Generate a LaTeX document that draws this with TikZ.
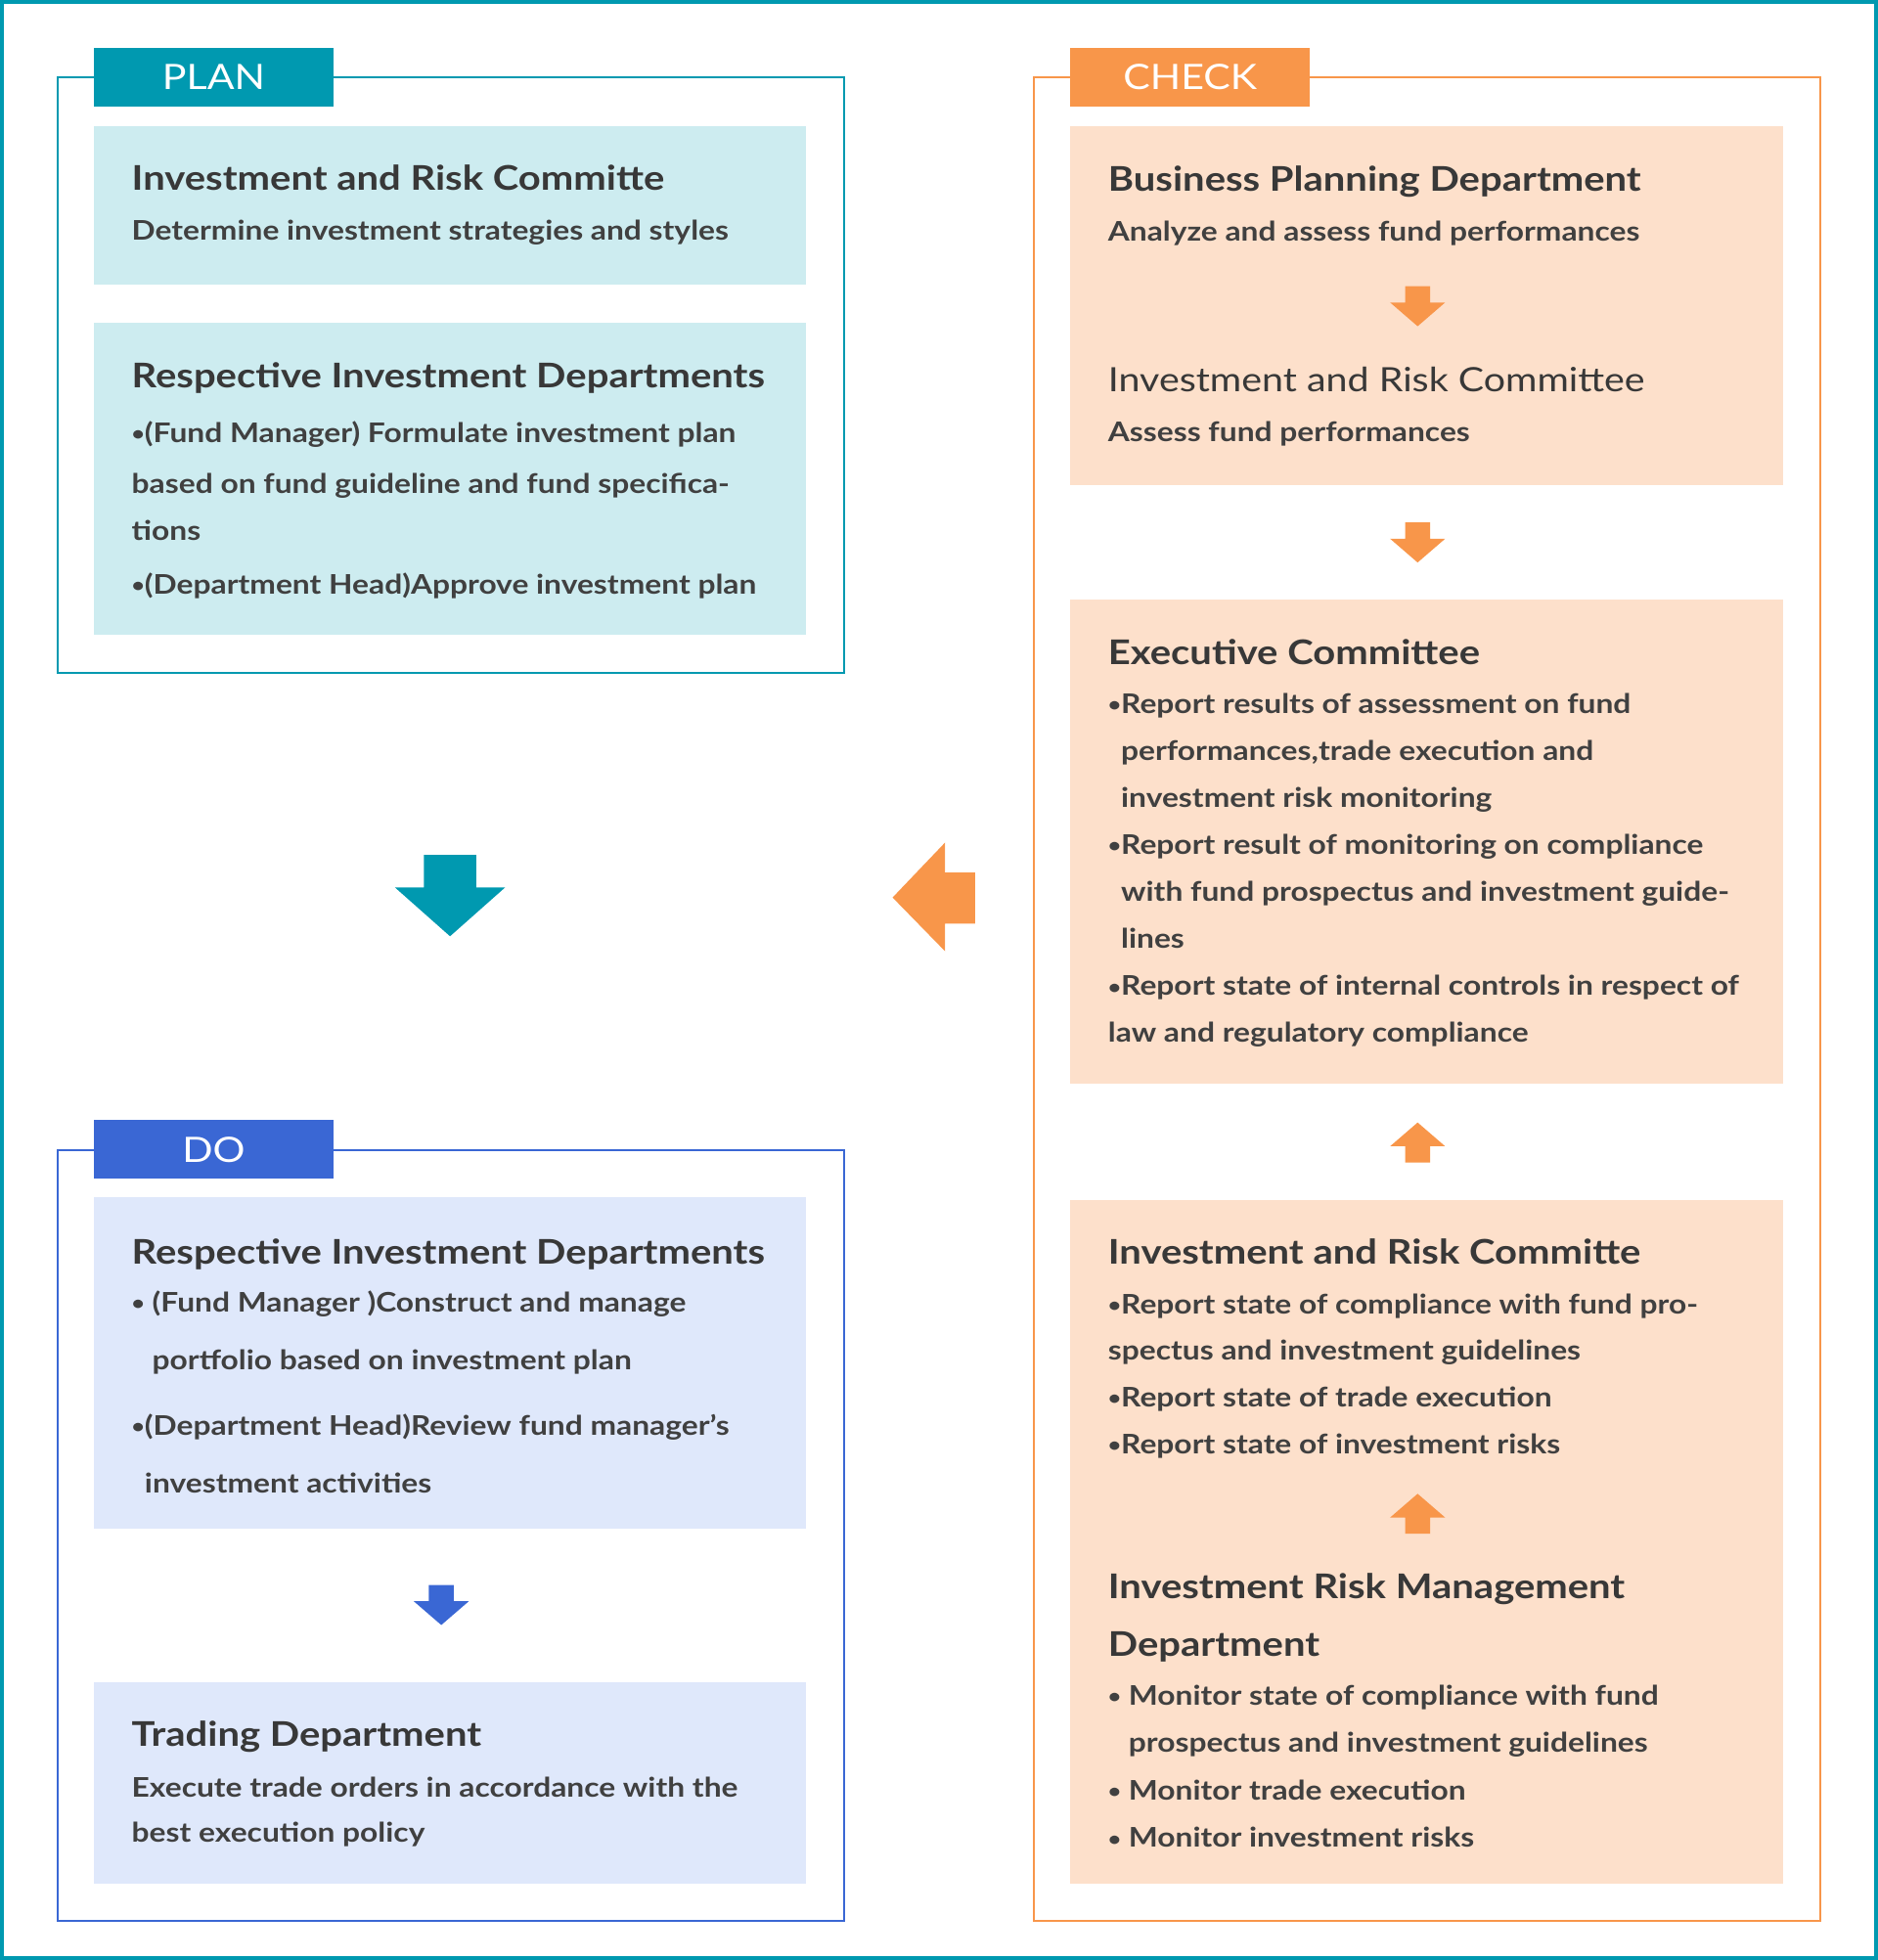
\documentclass[tikz,border=0pt]{standalone}
\usepackage{fontspec}
\setmainfont{Lato}[FakeStretch=1.15]

\definecolor{plancol}{HTML}{0099B0}
\definecolor{planfill}{HTML}{CDECF0}
\definecolor{docol}{HTML}{3A67D4}
\definecolor{dofill}{HTML}{DFE8FB}
\definecolor{checkcol}{HTML}{F8964A}
\definecolor{checkfill}{HTML}{FDE0CB}
\definecolor{headcol}{HTML}{383838}
\definecolor{bodycol}{HTML}{404040}

% small bullet
\newcommand{\blt}{\raisebox{0.12ex}{\scalebox{0.72}{•}}}

\begin{document}
\begin{tikzpicture}[
            x=0.5pt, y=-0.5pt,
            tab/.style={minimum width=96pt, minimum height=23.5pt, inner sep=0pt, text=white, font=\fontsize{14}{14}\selectfont},
            head/.style={anchor=base west, inner sep=0pt, align=left, text=headcol, font=\fontsize{13.6}{23}\selectfont\bfseries},
            headlight/.style={head, font=\fontsize{13.4}{23}\selectfont},
            body/.style={anchor=base west, inner sep=0pt, align=left, text=bodycol, font=\fontsize{10.8}{#1}\selectfont\bfseries},
            body/.default=18.8pt,
            smalldown/.pic={\fill (-10,0) -- (10,0) -- (10,13) -- (22,13) -- (0,32) -- (-22,13) -- (-10,13) -- cycle;}
        ]
            \useasboundingbox (0,0) rectangle (1502,1568);
            \draw[plancol, line width=1.5pt] (1.5,1.5) rectangle (1500.5,1566.5);

            % frames
            \draw[plancol, line width=0.75pt] (46,62) rectangle (675,538);
            \draw[docol, line width=0.75pt] (46,920) rectangle (675,1537);
            \draw[checkcol, line width=0.75pt] (827,62) rectangle (1456,1537);

            \node[tab, fill=plancol] (plantab) at (171,61.5) {PLAN};
            \node[tab, fill=docol] (dotab) at (171,919.5) {DO};
            \node[tab, fill=checkcol] (checktab) at (952,61.5) {CHECK};

            % plan (multi-line nodes sit on their last baseline)
            \fill[planfill] (75,101) rectangle (645,228);
            \fill[planfill] (75,258) rectangle (645,508);
            \node[head] (planhead1) at (105,152) {Investment and Risk Committe};
            \node[body] (planbody1) at (105,192) {Determine investment strategies and styles};
            \node[head] (planhead2) at (105,310) {Respective Investment Departments};
            \node[body=18.5pt] (planbody2) at (105,475) {\blt(Fund Manager) Formulate investment plan\\[2pt]based on fund guideline and fund specifica-\\tions\\[3pt]\blt(Department Head)Approve investment plan};

            \fill[plancol] (339,684) -- (381,684) -- (381,710) -- (404,710) -- (360,749) -- (316,710) -- (339,710) -- cycle;

            % do
            \fill[dofill] (75,958) rectangle (645,1223);
            \fill[dofill] (75,1346) rectangle (645,1507);
            \node[head] (dohead1) at (105,1011) {Respective Investment Departments};
            \node[body=23pt] (dobody1) at (105,1194) {\blt{} (Fund Manager )Construct and manage\\\hphantom{\blt{} }portfolio based on investment plan\\[3.25pt]\blt(Department Head)Review fund manager’s\\\hphantom{\blt}investment activities};
            \pic[docol] at (353,1268) {smalldown};
            \node[head] (dohead2) at (105,1397) {Trading Department};
            \node[body=18.3pt] (dobody2) at (105,1474) {Execute trade orders in accordance with the\\best execution policy};

            % check
            \fill[checkcol] (780,698) -- (756,698) -- (756,674) -- (714,718) -- (756,761) -- (756,739) -- (780,739) -- cycle;

            \fill[checkfill] (856,101) rectangle (1426,388);
            \fill[checkfill] (856,480) rectangle (1426,867);
            \fill[checkfill] (856,960) rectangle (1426,1507);

            \node[head] (checkhead1) at (886,153) {Business Planning Department};
            \node[body] (checkbody1) at (886,193) {Analyze and assess fund performances};
            \pic[checkcol] at (1134,229) {smalldown};
            \node[headlight] (checkhead2) at (886,313) {Investment and Risk Committee};
            \node[body] (checkbody2) at (886,353) {Assess fund performances};
            \pic[checkcol] at (1134,418) {smalldown};

            \node[head] (checkhead3) at (886,532) {Executive Committee};
            \node[body] (checkbody3) at (886,834) {\blt Report results of assessment on fund\\\hphantom{\blt}performances,trade execution and\\\hphantom{\blt}investment risk monitoring\\\blt Report result of monitoring on compliance\\\hphantom{\blt}with fund prospectus and investment guide-\\\hphantom{\blt}lines\\\blt Report state of internal controls in respect of\\law and regulatory compliance};
            \pic[checkcol, rotate=180] at (1134,930) {smalldown};

            \node[head] (checkhead4) at (886,1011) {Investment and Risk Committe};
            \node[body=18.7pt] (checkbody4) at (886,1163) {\blt Report state of compliance with fund pro-\\spectus and investment guidelines\\\blt Report state of trade execution\\\blt Report state of investment risks};
            \pic[checkcol, rotate=180] at (1134,1227) {smalldown};
            \node[head] (checkhead5) at (886,1325) {Investment Risk Management\\Department};
            \node[body=19pt] (checkbody5) at (886,1478) {\blt{} Monitor state of compliance with fund\\\hphantom{\blt{} }prospectus and investment guidelines\\\blt{} Monitor trade execution\\\blt{} Monitor investment risks};
        \end{tikzpicture}
\end{document}
